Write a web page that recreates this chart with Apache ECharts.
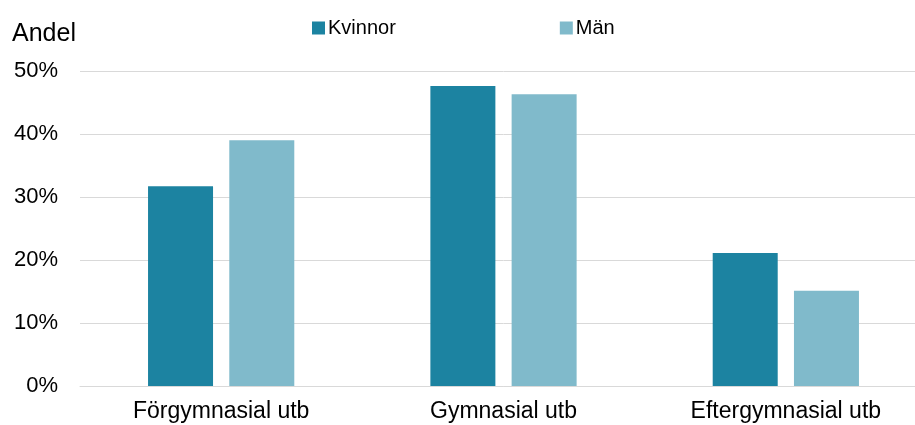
<!DOCTYPE html>
<html>
<head>
<meta charset="utf-8">
<script src="https://cdn.jsdelivr.net/npm/echarts@6/dist/echarts.min.js"></script>
<style>
html,body{margin:0;padding:0;background:#fff;overflow:hidden;}
#chart{width:927px;height:425px;}
</style>
</head>
<body>
<div id="chart"></div>
<script>
// data
var categories = ['Förgymnasial utb', 'Gymnasial utb', 'Eftergymnasial utb'];
var kvinnor = [31.7, 47.6, 21.1];
var man = [39.0, 46.3, 15.1];
var yTicks = [0, 10, 20, 30, 40, 50];

var font = 'Liberation Sans, Arial, sans-serif';
var chart = echarts.init(document.getElementById('chart'));
var option = {
	animation: false,
	textStyle: { fontFamily: font },
	legend: {
		left: 307,
		top: 13,
		itemWidth: 13,
		itemHeight: 13,
		itemGap: 164,
		icon: 'rect',
		textStyle: { fontSize: 20, color: '#000', fontFamily: font, padding: [0, 0, 0, -2] },
		data: ['Kvinnor', 'Män']
	},
	// plot area runs a little past the right edge of the window, as in the original
	grid: {
		left: 80,
		right: 0,
		top: 71,
		bottom: 39,
		containLabel: false
	},
	xAxis: {
		type: 'category',
		data: categories,
		axisTick: { show: false },
		axisLine: { lineStyle: { color: '#d9d9d9', width: 1 } },
		axisLabel: { fontSize: 23, color: '#000', margin: 14, fontFamily: font }
	},
	yAxis: {
		type: 'value',
		min: yTicks[0],
		max: yTicks[yTicks.length - 1],
		interval: 10,
		name: 'Andel',
		nameLocation: 'end',
		nameGap: 24,
		nameTextStyle: { fontSize: 25, color: '#000', align: 'left', padding: [0, 0, 0, -68], fontFamily: font },
		axisLine: { show: false },
		axisTick: { show: false },
		splitLine: { lineStyle: { color: '#d9d9d9', width: 1 } },
		axisLabel: { fontSize: 22, color: '#000', margin: 22, formatter: '{value}%', fontFamily: font }
	},
	series: [
		{
			name: 'Kvinnor',
			type: 'bar',
			data: kvinnor,
			barWidth: 65,
			barGap: '25%',
			itemStyle: { color: '#1c83a1' }
		},
		{
			name: 'Män',
			type: 'bar',
			data: man,
			barWidth: 65,
			itemStyle: { color: '#80bacb' }
		}
	]
};
chart.setOption(option);
</script>
</body>
</html>
